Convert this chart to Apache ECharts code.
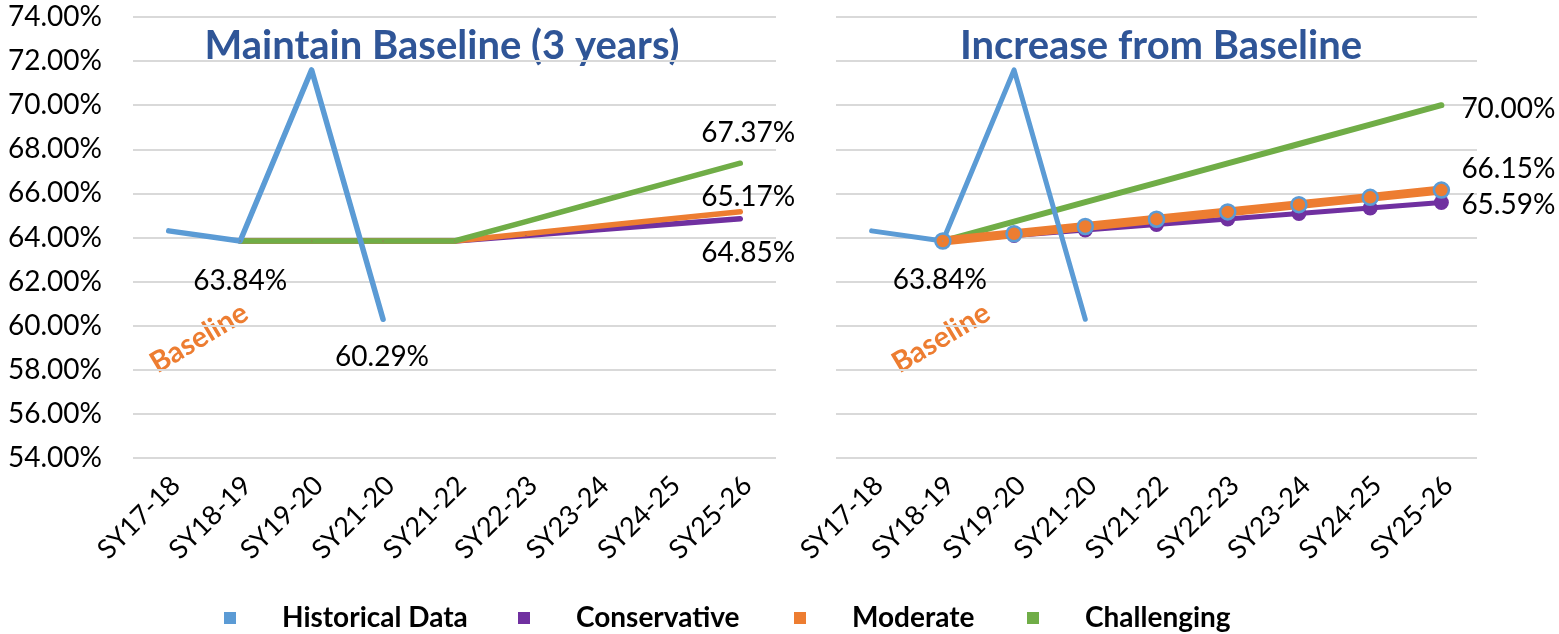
<!DOCTYPE html>
<html><head><meta charset="utf-8">
<script src="https://cdn.jsdelivr.net/npm/echarts@6/dist/echarts.min.js"></script>
<style>html,body{margin:0;padding:0;background:#fff}#c{width:1559px;height:634px}</style>
</head><body><div id="c"></div>
<script>
// ---------- data ----------
const categories = ['SY17-18','SY18-19','SY19-20','SY21-20','SY21-22','SY22-23','SY23-24','SY24-25','SY25-26'];
const historical = [64.30, 63.84, 71.60, 60.29, null, null, null, null, null];
const leftConservative = [null, 63.84, 63.84, 63.84, 63.84, 64.09, 64.35, 64.60, 64.85];
const leftModerate     = [null, 63.84, 63.84, 63.84, 63.84, 64.17, 64.51, 64.84, 65.17];
const leftChallenging  = [null, 63.84, 63.84, 63.84, 63.84, 64.72, 65.61, 66.49, 67.37];
const rightConservative = [null, 63.84, 64.09, 64.34, 64.59, 64.84, 65.09, 65.34, 65.59];
const rightModerate     = [null, 63.84, 64.17, 64.50, 64.83, 65.16, 65.49, 65.82, 66.15];
const rightChallenging  = [null, 63.84, 64.72, 65.60, 66.48, 67.36, 68.24, 69.12, 70.00];
const seriesNames = ['Historical Data', 'Conservative', 'Moderate', 'Challenging'];
const panelTitles = ['Maintain Baseline (3 years)', 'Increase from Baseline'];
const annotationText = 'Baseline';
const yMin = 54, yMax = 74, yStep = 2;

// ---------- style ----------
const C = { hist: '#5B9BD5', cons: '#7030A0', mod: '#ED7D31', chal: '#70AD47' };
const FONT = 'Lato';
const pct = v => Number(v).toFixed(2) + '%';

function labelled(values, offsets) {
  return values.map((v, i) => offsets[i] ? {
    value: v,
    label: { show: true, position: 'inside', offset: offsets[i], formatter: p => pct(p.value),
      fontFamily: FONT, fontSize: 28, color: '#000' }
  } : v);
}

function line(name, data, idx, color, width, extra) {
  return Object.assign({
    type: 'line', name: name, data: data, xAxisIndex: idx, yAxisIndex: idx,
    color: color, lineStyle: { color: color, width: width, cap: 'round', join: 'round' },
    itemStyle: { color: color }, symbol: 'circle', symbolSize: 1, showSymbol: true, showAllSymbol: true,
    connectNulls: false, emphasis: { disabled: true }, silent: true
  }, extra || {});
}

const markerCons = { symbol: 'circle', symbolSize: 15, itemStyle: { color: C.cons } };
const markerMod = { symbol: 'circle', symbolSize: 15, itemStyle: { color: C.mod, borderColor: C.hist, borderWidth: 2.5 } };

const series = [
  // left panel
  line(seriesNames[1], labelled(leftConservative, { 8: [8, 34] }), 0, C.cons, 5.5),
  line(seriesNames[2], labelled(leftModerate, { 8: [8, -15] }), 0, C.mod, 5.5),
  line(seriesNames[3], labelled(leftChallenging, { 8: [8, -30] }), 0, C.chal, 5.5),
  line(seriesNames[0], labelled(historical, { 1: [0, 40], 3: [-1, 38] }), 0, C.hist, 5.5, { z: 3 }),
  // right panel
  line(seriesNames[3], labelled(rightChallenging, { 8: [67, 4] }), 1, C.chal, 6),
  line(seriesNames[1], labelled(rightConservative, { 8: [67, 3] }), 1, C.cons, 5, markerCons),
  line(seriesNames[2], labelled(rightModerate, { 8: [67, -21] }), 1, C.mod, 9, markerMod),
  line(seriesNames[0], labelled(historical, { 1: [-3, 39] }), 1, C.hist, 5, { z: 3 })
];

function xAxis(idx) {
  return {
    type: 'category', gridIndex: idx, data: categories, boundaryGap: true,
    axisLine: { show: false }, axisTick: { show: false },
    axisLabel: { rotate: 45, margin: 30, fontFamily: FONT, fontSize: 27, color: '#000', interval: 0,
      padding: [0, -10, 0, 0] }
  };
}
function yAxis(idx, showLabels) {
  return {
    type: 'value', gridIndex: idx, min: yMin, max: yMax, interval: yStep,
    axisLine: { show: false }, axisTick: { show: false },
    axisLabel: { show: showLabels, formatter: v => pct(v), margin: 31, fontFamily: FONT, fontSize: 28, color: '#000' },
    splitLine: { lineStyle: { color: '#D9D9D9', width: 2 } }
  };
}

const legendLeft = [224, 518, 794, 1027];
const legends = seriesNames.map((n, i) => ({
  data: [n], left: legendLeft[i], top: 604, padding: 0, orient: 'horizontal',
  icon: 'path://M0,0h12v12h-12z M53,6h0.01v0.01h-0.01z', itemWidth: 53, itemHeight: 12,
  itemStyle: { borderWidth: 0 }, selectedMode: false,
  textStyle: { fontFamily: FONT, fontWeight: 'bold', fontSize: 28, color: '#000', lineHeight: 28 }
}));

const titleColor = '#2F5597';
const graphics = [
  { type: 'text', x: 442, y: 46, style: { text: panelTitles[0], align: 'center', verticalAlign: 'middle', fill: titleColor, font: 'bold 40px ' + FONT } },
  { type: 'text', x: 1161, y: 46, style: { text: panelTitles[1], align: 'center', verticalAlign: 'middle', fill: titleColor, font: 'bold 40px ' + FONT } },
  { type: 'text', x: 199, y: 338, rotation: 0.54, style: { text: annotationText, align: 'center', verticalAlign: 'middle', fill: C.mod, font: 'bold 29px ' + FONT } },
  { type: 'text', x: 941, y: 338, rotation: 0.54, style: { text: annotationText, align: 'center', verticalAlign: 'middle', fill: C.mod, font: 'bold 29px ' + FONT } }
];

const chart = echarts.init(document.getElementById('c'), null, { renderer: 'canvas' });
chart.setOption({
  animation: false,
  backgroundColor: '#fff',
  grid: [
    { left: 133, top: 17, width: 643, height: 441 },
    { left: 836, top: 17, width: 641, height: 441 }
  ],
  xAxis: [xAxis(0), xAxis(1)],
  yAxis: [yAxis(0, true), yAxis(1, false)],
  legend: legends,
  graphic: graphics,
  series: series
});
</script></body></html>
